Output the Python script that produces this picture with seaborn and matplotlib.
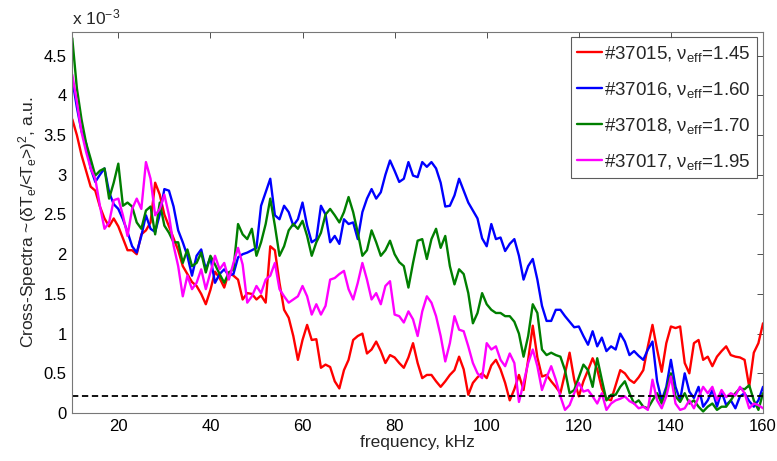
import numpy as np
import pandas as pd
import matplotlib
matplotlib.use("Agg")
import matplotlib.pyplot as plt
import seaborn as sns
from matplotlib.ticker import FormatStrFormatter, MultipleLocator

# ---------------- data (values in units of 1e-3) ----------------
freq = np.arange(10, 161)  # kHz grid, 1 kHz step

red_37015 = [
    3.70, 3.50, 3.25, 3.05, 2.85, 2.80, 2.60, 2.45, 2.35, 2.45,
    2.35, 2.20, 2.05, 2.05, 2.00, 2.25, 2.30, 2.40, 2.90, 2.75,
    2.50, 2.35, 2.20, 2.05, 1.85, 1.75, 1.65, 1.60, 1.50, 1.37,
    1.55, 1.78, 1.70, 1.58, 1.77, 1.73, 1.68, 1.43, 1.51, 1.50,
    1.43, 1.48, 1.39, 2.10, 2.05, 1.64, 1.30, 1.20, 0.97, 0.67,
    0.92, 1.11, 0.92, 0.93, 0.57, 0.61, 0.58, 0.40, 0.31, 0.54,
    0.67, 0.92, 0.97, 1.00, 0.75, 0.80, 0.90, 0.78, 0.63, 0.73,
    0.70, 0.63, 0.57, 0.70, 0.88, 0.63, 0.44, 0.48, 0.48, 0.40,
    0.33, 0.40, 0.48, 0.54, 0.71, 0.55, 0.23, 0.38, 0.45, 0.50,
    0.44, 0.60, 0.67, 0.55, 0.38, 0.16, 0.30, 0.48, 0.29, 0.67,
    1.10, 0.70, 0.46, 0.48, 0.40, 0.33, 0.25, 0.50, 0.76, 0.42,
    0.21, 0.40, 0.54, 0.69, 0.55, 0.31, 0.18, 0.16, 0.35, 0.54,
    0.50, 0.42, 0.38, 0.45, 0.54, 0.84, 1.11, 0.80, 0.52, 0.88,
    1.09, 1.07, 1.09, 0.63, 0.50, 0.88, 0.92, 0.67, 0.71, 0.59,
    0.71, 0.78, 0.84, 0.73, 0.71, 0.70, 0.67, 0.33, 0.76, 0.88, 1.13,
]

blue_37016 = [
    4.20, 3.85, 3.55, 3.40, 3.08, 2.91, 3.00, 3.08, 2.78, 2.63,
    2.57, 2.44, 2.28, 2.10, 2.02, 2.23, 2.49, 2.32, 2.28, 2.50,
    2.82, 2.80, 2.60, 2.30, 2.15, 1.98, 1.73, 1.98, 2.06, 1.81,
    1.96, 1.64, 1.75, 1.81, 1.73, 1.75, 1.96, 2.00, 2.02, 2.05,
    2.08, 2.61, 2.78, 2.95, 2.49, 2.44, 2.61, 2.53, 2.36, 2.44,
    2.65, 2.36, 2.15, 2.19, 2.61, 2.50, 2.15, 2.23, 2.13, 2.44,
    2.38, 2.40, 2.19, 2.53, 2.70, 2.82, 2.70, 2.78, 3.00, 3.18,
    3.05, 2.91, 2.95, 3.16, 2.99, 2.97, 3.16, 3.10, 3.16, 3.08,
    2.90, 2.60, 2.61, 2.74, 2.95, 2.80, 2.65, 2.55, 2.45, 2.20,
    2.10, 2.38, 2.19, 2.21, 2.04, 2.13, 2.19, 1.98, 1.68, 1.85,
    1.94, 1.68, 1.35, 1.16, 1.16, 1.30, 1.30, 1.22, 1.15, 1.08,
    1.09, 0.97, 0.86, 1.03, 0.84, 0.95, 0.78, 0.84, 0.80, 1.00,
    0.90, 0.73, 0.78, 0.72, 0.67, 0.80, 0.90, 0.40, 0.16, 0.33,
    0.67, 0.33, 0.16, 0.50, 0.27, 0.19, 0.33, 0.08, 0.16, 0.29,
    0.08, 0.27, 0.10, 0.16, 0.06, 0.21, 0.25, 0.15, 0.08, 0.16, 0.33,
]

green_37018 = [
    4.72, 4.09, 3.70, 3.40, 3.20, 2.99, 3.05, 3.08, 2.70, 2.90,
    3.14, 2.61, 2.65, 2.60, 2.40, 2.32, 2.55, 2.60, 2.25, 2.65,
    2.36, 2.27, 2.15, 2.15, 1.89, 2.06, 1.85, 1.89, 2.02, 1.77,
    1.98, 1.87, 1.75, 1.64, 1.77, 1.81, 2.38, 2.25, 2.19, 2.32,
    1.98, 2.15, 2.38, 2.70, 2.36, 1.98, 2.10, 2.30, 2.38, 2.32,
    2.42, 2.23, 1.98, 2.15, 2.27, 2.50, 2.57, 2.49, 2.40, 2.53,
    2.72, 2.53, 2.27, 1.98, 2.05, 2.30, 2.15, 1.98, 2.05, 2.17,
    2.00, 1.90, 1.85, 1.58, 1.89, 2.17, 2.19, 1.94, 2.19, 2.32,
    2.08, 2.23, 1.85, 1.62, 1.81, 1.75, 1.51, 1.13, 1.26, 1.51,
    1.37, 1.30, 1.26, 1.26, 1.22, 1.22, 1.15, 1.00, 0.71, 0.97,
    1.37, 1.26, 0.80, 0.73, 0.76, 0.73, 0.71, 0.54, 0.25, 0.29,
    0.45, 0.61, 0.54, 0.33, 0.69, 0.42, 0.16, 0.23, 0.23, 0.33,
    0.40, 0.25, 0.12, 0.16, 0.08, 0.06, 0.16, 0.25, 0.12, 0.29,
    0.50, 0.21, 0.14, 0.25, 0.12, 0.16, 0.08, 0.02, 0.08, 0.12,
    0.04, 0.08, 0.08, 0.16, 0.25, 0.31, 0.30, 0.35, 0.16, 0.04, 0.25,
]

magenta_37017 = [
    4.26, 3.92, 3.54, 3.29, 3.08, 2.95, 2.61, 2.32, 2.40, 2.68,
    2.70, 2.49, 2.23, 2.57, 2.70, 2.57, 3.16, 2.95, 2.49, 2.57,
    2.75, 2.49, 2.11, 1.85, 1.47, 1.73, 1.56, 1.64, 1.81, 1.56,
    1.77, 1.98, 1.81, 1.89, 1.68, 1.89, 2.08, 1.87, 1.39, 1.47,
    1.60, 1.51, 1.68, 1.73, 1.89, 1.56, 1.47, 1.39, 1.43, 1.47,
    1.60, 1.47, 1.24, 1.37, 1.24, 1.35, 1.68, 1.70, 1.75, 1.79,
    1.56, 1.43, 1.64, 1.89, 1.68, 1.43, 1.51, 1.37, 1.60, 1.66,
    1.24, 1.22, 1.14, 1.28, 1.18, 0.97, 1.28, 1.47, 1.39, 1.22,
    0.97, 0.65, 0.88, 1.22, 1.05, 1.03, 0.84, 0.63, 0.50, 0.44,
    0.88, 0.80, 0.84, 0.67, 0.59, 0.75, 0.63, 0.14, 0.38, 0.63,
    0.80, 0.59, 0.29, 0.45, 0.59, 0.42, 0.21, 0.04, 0.10, 0.25,
    0.38, 0.27, 0.29, 0.21, 0.12, 0.25, 0.04, 0.12, 0.16, 0.18,
    0.21, 0.15, 0.12, 0.06, 0.08, 0.04, 0.42, 0.16, 0.06, 0.21,
    0.46, 0.12, 0.04, 0.06, 0.16, 0.06, 0.20, 0.33, 0.25, 0.33,
    0.16, 0.29, 0.20, 0.25, 0.22, 0.33, 0.25, 0.06, 0.12, 0.10, 0.06,
]

noise_level = 0.22

labels = [
    r"#37015, ν$_{\mathrm{eff}}$=1.45",
    r"#37016, ν$_{\mathrm{eff}}$=1.60",
    r"#37018, ν$_{\mathrm{eff}}$=1.70",
    r"#37017, ν$_{\mathrm{eff}}$=1.95",
]
colors = ["#ff0000", "#0000ff", "#007f00", "#ff00ff"]
series = [red_37015, blue_37016, green_37018, magenta_37017]

x_ticks = [20, 40, 60, 80, 100, 120, 140, 160]

# ---------------- plotting ----------------
sns.set_theme(style="white")
plt.rcParams["font.family"] = ["Liberation Sans", "DejaVu Sans"]
plt.rcParams["mathtext.fontset"] = "custom"
plt.rcParams["mathtext.rm"] = "Liberation Sans"
plt.rcParams["mathtext.it"] = "Liberation Sans:italic"
plt.rcParams["mathtext.bf"] = "Liberation Sans:bold"

df = pd.concat(
    [pd.DataFrame({"freq": freq, "val": vals, "series": lab})
     for vals, lab in zip(series, labels)],
    ignore_index=True,
)

fig = plt.figure(figsize=(7.77, 4.61), dpi=100)
ax = fig.add_axes([0.093, 0.104, 0.889, 0.827])

sns.lineplot(data=df, x="freq", y="val", hue="series", hue_order=labels,
             palette=dict(zip(labels, colors)), linewidth=1.7,
             estimator=None, sort=False, ax=ax)

ax.axhline(noise_level, color="black", linestyle="--", linewidth=1.3, dashes=(3.5, 2))

ax.set_xlim(10, 160)
ax.set_ylim(0, 4.8)
ax.set_xticks(x_ticks)
ax.yaxis.set_major_locator(MultipleLocator(0.5))
ax.yaxis.set_major_formatter(FormatStrFormatter("%g"))

ax.tick_params(direction="in", top=True, right=True, length=4, width=0.6,
               labelsize=12, colors="#333333", labelcolor="black", pad=4)
for sp in ax.spines.values():
    sp.set_color("#777777")
    sp.set_linewidth(0.8)

ax.set_xlabel("frequency, kHz", fontsize=12.5, labelpad=1)
ax.set_ylabel(r"Cross-Spectra ~(δT$_{\mathrm{e}}$/<T$_{\mathrm{e}}$>)$^{2}$, a.u.",
              fontsize=12.5, labelpad=3)

ax.text(0.0, 1.012, r"x 10$^{-3}$", transform=ax.transAxes,
        ha="left", va="bottom", fontsize=12.5)

leg = ax.legend(loc="upper right", frameon=True, fancybox=False,
                edgecolor="#333333", fontsize=13.5, handlelength=1.3,
                handletextpad=0.15, labelspacing=0.85, borderaxespad=0.3,
                borderpad=0.35)
leg.get_frame().set_linewidth(0.8)

fig.savefig("out.png", dpi=100, facecolor="white")
